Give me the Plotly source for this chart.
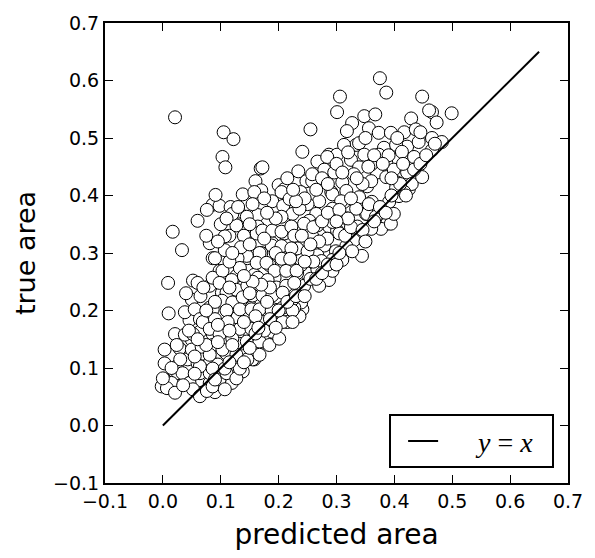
import plotly.graph_objects as go

predicted = [
    0.021, 0.105, 0.122, 0.103, 0.108, 0.169, 0.172, 0.160, 0.170, 0.200, 0.210, 0.241, 0.255, 0.234, 0.248, 0.238,
    0.138, 0.086, 0.076, 0.098, 0.117, 0.131, 0.060, 0.017, 0.164, 0.189, 0.208, 0.224, 0.091,
    0.375, 0.386, 0.306, 0.448, 0.301, 0.465, 0.499, 0.473, 0.348, 0.367, 0.327, 0.318, 0.356, 0.373, 0.394, 0.417,
    0.429, 0.437, 0.465, 0.482, 0.334, 0.382, 0.422, 0.442, 0.404, 0.465, 0.287, 0.301, 0.267, 0.325, 0.339, 0.370,
    0.386, 0.422, 0.279, 0.296, 0.258, 0.310, 0.353, 0.404, 0.425, 0.291, 0.270, 0.313, 0.339, 0.361, 0.391, 0.265,
    0.299, 0.318, 0.351, 0.377, 0.387, 0.287, 0.336, 0.368, 0.284, 0.339, 0.258, 0.360, 0.373, 0.403, 0.413, 0.434,
    0.460, 0.360, 0.386, 0.430, 0.448, 0.408, 0.293, 0.317, 0.308,
    0.377, 0.394, 0.344, 0.287, 0.270, 0.241, 0.353, 0.301, 0.279, 0.267, 0.248, 0.339, 0.310, 0.293, 0.322, 0.330,
    0.360, 0.262, 0.258, 0.317, 0.248, 0.299, 0.239, 0.267, 0.244, 0.239, 0.236,
    0.033, 0.009, 0.052, 0.060, 0.050, 0.010, 0.021, 0.003, 0.003, 0.003, -0.002, 0.029, 0.050, 0.043, 0.060,
    0.081, 0.086, 0.107, 0.115, 0.098, 0.102, 0.081, 0.059, 0.072, 0.064, 0.086, 0.107, 0.107, 0.081, 0.064, 0.043,
    0.026, 0.081, 0.067, 0.102, 0.129, 0.129, 0.127, 0.127, 0.133, 0.146, 0.170, 0.158, 0.164, 0.153, 0.155, 0.141,
    0.158, 0.129, 0.119, 0.090, 0.176, 0.189, 0.181, 0.198, 0.210, 0.193, 0.184, 0.213, 0.219, 0.232, 0.239, 0.189,
    0.210, 0.232, 0.250, 0.227, 0.207, 0.193, 0.215, 0.227,
    0.024, 0.015, 0.034, 0.046, 0.007, 0.021, 0.052, 0.064, 0.076, 0.086, 0.098, 0.110, 0.107, 0.095, 0.110, 0.127,
    0.138, 0.127, 0.145, 0.155, 0.164, 0.133, 0.086, 0.050, 0.069, 0.000, 0.081,
    0.038, 0.046, 0.038, 0.055, 0.064, 0.081, 0.086, 0.090, 0.107, 0.127, 0.120, 0.145, 0.164, 0.162, 0.172, 0.189,
    0.205, 0.205, 0.222, 0.227, 0.188, 0.205, 0.222, 0.167, 0.145, 0.129, 0.162, 0.179, 0.193, 0.213, 0.231, 0.133,
    0.103, 0.119, 0.098, 0.110, 0.127, 0.146, 0.164, 0.181, 0.196, 0.213, 0.227, 0.102, 0.120, 0.138, 0.155, 0.172,
    0.189, 0.207, 0.224, 0.086, 0.110, 0.133, 0.153, 0.167, 0.188, 0.207, 0.224, 0.069, 0.090, 0.112, 0.133, 0.153,
    0.172, 0.189, 0.207, 0.224, 0.052, 0.081, 0.098, 0.120, 0.145, 0.167, 0.184, 0.201, 0.024, 0.067, 0.081, 0.103,
    0.127, 0.146, 0.167, 0.064, 0.086, 0.107, 0.133, 0.158, 0.205,
    0.417, 0.403, 0.368, 0.356, 0.334, 0.293, 0.250, 0.253, 0.267, 0.293, 0.305, 0.327, 0.293, 0.284, 0.274, 0.236,
    0.244, 0.219, 0.399, 0.330, 0.348, 0.313, 0.399, 0.434,
    0.040, 0.065, 0.070, 0.045, 0.030, 0.015, 0.055, 0.075, 0.095, 0.115, 0.140, 0.160, 0.180, 0.200, 0.215, 0.230,
    0.245, 0.255, 0.265, 0.275, 0.285, 0.300, 0.305, 0.315, 0.325, 0.345, 0.350, 0.365, 0.375, 0.385, 0.395, 0.410,
    0.420, 0.415, 0.445, 0.455, 0.470, 0.445, 0.405, 0.390, 0.350, 0.320, 0.300, 0.275, 0.285, 0.265, 0.245, 0.230,
    0.225, 0.215, 0.195, 0.180, 0.175, 0.155, 0.150, 0.140, 0.135, 0.150, 0.175, 0.195, 0.205, 0.220, 0.240, 0.260,
    0.275, 0.285, 0.305, 0.325, 0.345, 0.335, 0.310, 0.365, 0.380, 0.395, 0.355, 0.320, 0.300, 0.270, 0.255, 0.260,
    0.245, 0.185, 0.170, 0.155, 0.140, 0.115, 0.120, 0.095, 0.100, 0.075, 0.130, 0.110, 0.090, 0.075, 0.115, 0.150,
    0.185, 0.175, 0.160, 0.195, 0.140, 0.115, 0.090, 0.055, 0.035, 0.120, 0.095, 0.060, 0.150, 0.165,
]

true_area = [
    0.536, 0.510, 0.498, 0.467, 0.449, 0.447, 0.449, 0.425, 0.409, 0.418, 0.411, 0.476, 0.515, 0.442, 0.425, 0.406,
    0.402, 0.384, 0.375, 0.382, 0.380, 0.372, 0.356, 0.337, 0.366, 0.390, 0.382, 0.368, 0.401,
    0.604, 0.579, 0.572, 0.572, 0.545, 0.545, 0.543, 0.527, 0.538, 0.541, 0.526, 0.512, 0.517, 0.509, 0.509, 0.510,
    0.534, 0.515, 0.500, 0.493, 0.488, 0.483, 0.485, 0.493, 0.462, 0.479, 0.471, 0.471, 0.459, 0.462, 0.449, 0.440,
    0.457, 0.440, 0.445, 0.440, 0.425, 0.423, 0.416, 0.423, 0.411, 0.406, 0.390, 0.389, 0.397, 0.389, 0.389, 0.368,
    0.365, 0.360, 0.368, 0.365, 0.351, 0.346, 0.346, 0.348, 0.467, 0.491, 0.437, 0.454, 0.471, 0.488, 0.476, 0.467,
    0.548, 0.425, 0.432, 0.420, 0.432, 0.399, 0.402, 0.408, 0.390,
    0.342, 0.351, 0.295, 0.253, 0.243, 0.202, 0.368, 0.339, 0.313, 0.296, 0.265, 0.329, 0.288, 0.269, 0.308, 0.322,
    0.342, 0.283, 0.329, 0.312, 0.300, 0.303, 0.279, 0.271, 0.243, 0.214, 0.190,
    0.305, 0.248, 0.252, 0.248, 0.219, 0.195, 0.159, 0.132, 0.108, 0.080, 0.068, 0.134, 0.149, 0.115, 0.108,
    0.317, 0.291, 0.305, 0.330, 0.269, 0.231, 0.205, 0.197, 0.176, 0.163, 0.159, 0.151, 0.128, 0.115, 0.091, 0.080,
    0.091, 0.074, 0.057, 0.080, 0.159, 0.188, 0.223, 0.260, 0.286, 0.291, 0.300, 0.262, 0.231, 0.205, 0.175, 0.132,
    0.115, 0.098, 0.074, 0.058, 0.149, 0.166, 0.197, 0.223, 0.240, 0.257, 0.279, 0.291, 0.274, 0.265, 0.288, 0.317,
    0.334, 0.308, 0.303, 0.205, 0.193, 0.176, 0.180, 0.235,
    0.103, 0.074, 0.091, 0.074, 0.065, 0.057, 0.063, 0.051, 0.060, 0.068, 0.080, 0.091, 0.063, 0.106, 0.125, 0.111,
    0.094, 0.082, 0.128, 0.115, 0.140, 0.142, 0.140, 0.132, 0.125, 0.082, 0.091,
    0.158, 0.183, 0.197, 0.202, 0.185, 0.243, 0.257, 0.291, 0.329, 0.348, 0.368, 0.363, 0.346, 0.334, 0.339, 0.339,
    0.337, 0.363, 0.346, 0.330, 0.313, 0.312, 0.308, 0.300, 0.295, 0.291, 0.283, 0.283, 0.269, 0.269, 0.269, 0.274,
    0.269, 0.253, 0.248, 0.231, 0.236, 0.243, 0.257, 0.253, 0.240, 0.243, 0.248, 0.217, 0.214, 0.223, 0.226, 0.226,
    0.226, 0.231, 0.219, 0.202, 0.200, 0.202, 0.202, 0.202, 0.200, 0.205, 0.200, 0.180, 0.185, 0.180, 0.168, 0.168,
    0.180, 0.163, 0.180, 0.180, 0.159, 0.168, 0.158, 0.151, 0.146, 0.146, 0.140, 0.151, 0.140, 0.137, 0.123, 0.132,
    0.123, 0.115, 0.123, 0.103, 0.099, 0.099, 0.099, 0.406, 0.406,
    0.406, 0.414, 0.363, 0.385, 0.377, 0.377, 0.385, 0.356, 0.348, 0.354, 0.334, 0.303, 0.288, 0.325, 0.286, 0.377,
    0.351, 0.394, 0.368, 0.437, 0.471, 0.488, 0.445, 0.445,
    0.230, 0.225, 0.240, 0.165, 0.115, 0.100, 0.120, 0.140, 0.175, 0.165, 0.180, 0.190, 0.215, 0.200, 0.215, 0.225,
    0.225, 0.255, 0.255, 0.265, 0.280, 0.280, 0.300, 0.330, 0.345, 0.340, 0.320, 0.355, 0.380, 0.370, 0.400, 0.420,
    0.400, 0.455, 0.455, 0.470, 0.490, 0.510, 0.500, 0.470, 0.500, 0.475, 0.455, 0.430, 0.420, 0.410, 0.395, 0.390,
    0.410, 0.430, 0.360, 0.370, 0.395, 0.385, 0.350, 0.330, 0.310, 0.315, 0.325, 0.300, 0.290, 0.290, 0.330, 0.345,
    0.355, 0.370, 0.375, 0.395, 0.420, 0.430, 0.440, 0.470, 0.455, 0.430, 0.450, 0.360, 0.355, 0.320, 0.315, 0.285,
    0.285, 0.240, 0.245, 0.250, 0.260, 0.285, 0.300, 0.320, 0.350, 0.330, 0.380, 0.360, 0.215, 0.200, 0.240, 0.230,
    0.185, 0.165, 0.160, 0.170, 0.110, 0.110, 0.080, 0.090, 0.070, 0.140, 0.145, 0.150, 0.135, 0.170,
]

identity_x = [0.0, 0.65]
identity_y = [0.0, 0.65]
tick_values = [-0.1, 0.0, 0.1, 0.2, 0.3, 0.4, 0.5, 0.6, 0.7]
axis_range = [-0.1, 0.7]

fig = go.Figure()
fig.add_trace(go.Scatter(
    x=predicted, y=true_area, mode="markers", showlegend=False,
    marker=dict(size=13, color="white", line=dict(color="black", width=1)),
))
fig.add_trace(go.Scatter(
    x=identity_x, y=identity_y, mode="lines",
    name="\u00a0\u00a0\u00a0\u00a0\u00a0<i>y</i> = <i>x</i>\u00a0\u00a0",
    line=dict(color="black", width=2),
))

axis_common = dict(
    range=axis_range, tickvals=tick_values, tickformat=".1f",
    showgrid=False, zeroline=False, showline=True, linecolor="black", linewidth=2,
    mirror="ticks", ticks="inside", ticklen=8, tickwidth=1, tickcolor="black",
    tickfont=dict(family="DejaVu Sans", size=19, color="black"),
)

fig.update_xaxes(**axis_common,
                 title=dict(text="predicted area", font=dict(family="DejaVu Sans", size=28, color="black"), standoff=14))
fig.update_yaxes(**axis_common,
                 title=dict(text="true area", font=dict(family="DejaVu Sans", size=27, color="black"), standoff=10))

fig.update_layout(
    width=595, height=558,
    margin=dict(l=105, r=25, t=16, b=75),
    plot_bgcolor="white", paper_bgcolor="white",
    legend=dict(x=0.970, y=0.032, xanchor="right", yanchor="bottom",
                bordercolor="black", borderwidth=2, bgcolor="white", indentation=12,
                font=dict(family="Liberation Serif", size=28, color="black")),
)

fig.write_html("out.html")
